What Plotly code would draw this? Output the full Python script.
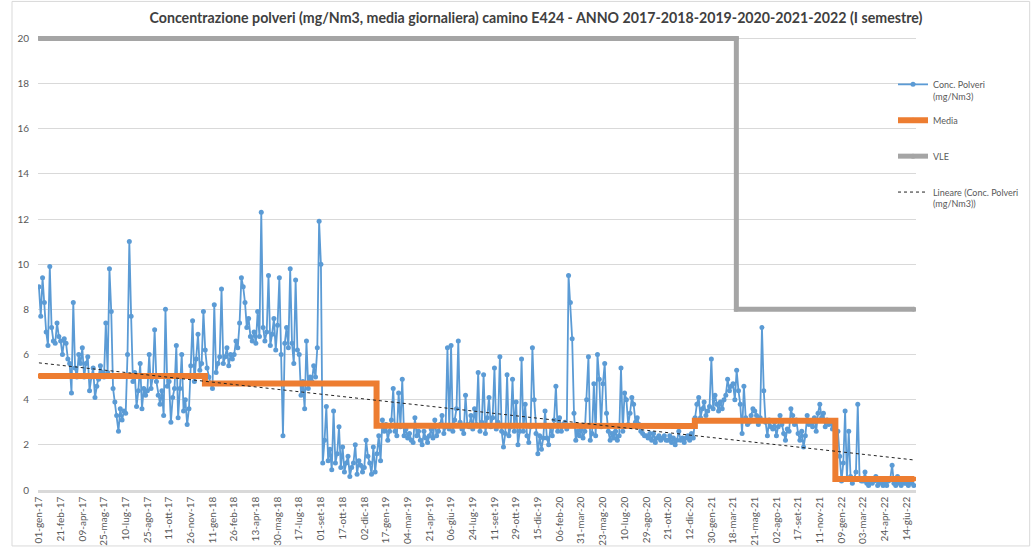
import numpy as np
import plotly.graph_objects as go

# ---------------- data ----------------
tick_labels = [
    "01-gen-17", "21-feb-17", "09-apr-17", "25-mag-17", "10-lug-17", "25-ago-17",
    "11-ott-17", "26-nov-17", "11-gen-18", "26-feb-18", "13-apr-18", "30-mag-18",
    "17-lug-18", "01-set-18", "17-ott-18", "02-dic-18", "17-gen-19", "04-mar-19",
    "21-apr-19", "06-giu-19", "24-lug-19", "11-set-19", "29-ott-19", "15-dic-19",
    "06-feb-20", "31-mar-20", "23-mag-20", "10-lug-20", "29-ago-20", "21-ott-20",
    "12-dic-20", "30-gen-21", "18-mar-21", "21-mag-21", "02-ago-21", "17-set-21",
    "11-nov-21", "09-gen-22", "03-mar-22", "24-apr-22", "14-giu-22",
]
points_per_tick = 46          # daily records between two labelled ticks
samples_per_tick = 12         # values per tick interval
last_index = 1856             # index of the last daily record

# Conc. Polveri (mg/Nm3), 12 per tick interval
conc_values = [
    9.0, 7.7, 9.4, 8.3, 7.0, 6.4, 9.9, 7.2, 6.6, 6.5, 7.4, 6.8,      # 01-gen-17
    6.6, 6.0, 6.7, 6.5, 5.8, 5.6, 4.3, 8.3, 5.4, 5.0, 6.0, 5.6,      # 21-feb-17
    6.3, 5.0, 5.6, 5.9, 4.4, 5.0, 5.4, 4.1, 4.6, 4.9, 5.5, 5.2,      # 09-apr-17
    5.0, 7.4, 5.2, 9.8, 7.9, 4.5, 3.9, 3.3, 2.6, 3.6, 3.1, 3.5,      # 25-mag-17
    3.4, 6.0, 11.0, 7.7, 4.8, 5.2, 3.7, 4.4, 5.6, 3.6, 4.5, 4.2,     # 10-lug-17
    4.4, 6.0, 4.5, 5.0, 7.1, 4.8, 4.2, 3.8, 4.4, 3.3, 8.0, 4.6,      # 25-ago-17
    4.8, 3.0, 4.1, 4.5, 6.4, 3.2, 4.5, 6.0, 3.5, 4.0, 2.9, 3.6,      # 11-ott-17
    5.5, 7.5, 4.8, 5.8, 6.9, 5.3, 5.6, 7.9, 6.2, 5.4, 5.0, 4.7,      # 26-nov-17
    4.5, 8.2, 5.2, 5.6, 5.9, 8.9, 5.6, 5.9, 6.3, 5.5, 6.0, 5.8,      # 11-gen-18
    6.0, 6.6, 6.3, 7.4, 9.4, 9.0, 8.3, 7.2, 7.6, 6.8, 6.6, 7.0,      # 26-feb-18
    6.5, 7.9, 6.8, 12.3, 7.2, 6.6, 7.0, 9.5, 6.4, 6.9, 7.6, 6.2,     # 13-apr-18
    7.3, 9.4, 6.0, 2.4, 6.5, 7.2, 6.3, 9.8, 6.5, 5.6, 9.3, 6.2,      # 30-mag-18
    6.0, 4.2, 4.8, 3.6, 6.6, 4.5, 5.0, 4.8, 5.5, 5.0, 6.3, 11.9,     # 17-lug-18
    10.0, 1.2, 2.2, 3.7, 1.3, 1.8, 0.9, 3.5, 1.2, 1.6, 2.8, 1.0,     # 01-set-18
    1.9, 0.8, 1.2, 1.5, 0.6, 1.0, 1.2, 2.0, 0.7, 1.3, 1.1, 0.8,      # 17-ott-18
    1.0, 2.2, 1.5, 1.2, 0.7, 1.9, 0.8, 1.6, 2.4, 1.3, 3.1, 2.6,      # 02-dic-18
    2.9, 2.2, 2.6, 3.1, 4.5, 2.6, 2.4, 4.3, 2.8, 4.9, 2.4, 2.7,      # 17-gen-19
    2.3, 2.5, 2.2, 2.1, 3.2, 2.4, 2.6, 2.2, 2.0, 2.6, 2.3, 2.1,      # 04-mar-19
    2.4, 2.7, 2.3, 3.1, 2.4, 2.6, 2.9, 3.3, 2.5, 2.8, 6.3, 2.7,      # 21-apr-19
    6.4, 2.6, 3.1, 3.6, 6.6, 3.0, 2.7, 2.5, 4.2, 2.9, 2.8, 3.3,      # 06-giu-19
    2.7, 3.6, 2.9, 5.2, 2.6, 3.0, 5.1, 2.5, 3.2, 4.1, 2.8, 3.2,      # 24-lug-19
    5.4, 2.7, 3.0, 5.9, 2.6, 1.9, 2.5, 5.1, 2.4, 2.8, 4.9, 2.6,      # 11-set-19
    3.9, 2.0, 2.6, 5.8, 2.6, 3.8, 2.4, 2.1, 2.8, 6.3, 4.0, 2.5,      # 29-ott-19
    1.6, 2.4, 1.8, 2.3, 3.5, 2.3, 2.0, 2.8, 2.4, 3.1, 4.6, 2.6,      # 15-dic-19
    3.2, 2.6, 2.9, 3.0, 2.7, 9.5, 8.3, 6.7, 3.4, 2.2, 2.6, 2.4,      # 06-feb-20
    2.7, 2.3, 2.6, 4.0, 5.9, 2.2, 2.5, 4.7, 2.4, 6.0, 4.9, 2.8,      # 31-mar-20
    4.7, 5.6, 3.4, 2.6, 2.2, 2.5, 2.3, 2.6, 2.2, 2.4, 5.4, 2.6,      # 23-mag-20
    4.3, 4.0, 2.9, 3.4, 4.1, 3.8, 3.0, 3.2, 2.9, 2.6, 2.5, 2.4,      # 10-lug-20
    2.4, 2.3, 2.5, 2.2, 2.5, 2.1, 2.3, 2.4, 2.2, 2.3, 2.4, 2.2,      # 29-ago-20
    2.2, 2.4, 2.1, 2.3, 2.0, 2.2, 2.6, 2.2, 2.3, 2.1, 2.3, 2.4,      # 21-ott-20
    2.2, 2.5, 2.3, 3.2, 3.8, 4.1, 3.2, 3.6, 3.9, 3.3, 3.5, 3.7,      # 12-dic-20
    5.8, 3.6, 4.2, 3.8, 3.5, 3.9, 3.6, 4.0, 4.2, 4.9, 4.4, 4.6,      # 30-gen-21
    4.7, 4.0, 5.3, 4.4, 3.8, 2.5, 4.6, 3.2, 2.9, 3.0, 3.3, 3.6,      # 18-mar-21
    3.5, 3.3, 2.9, 3.2, 7.2, 4.4, 3.0, 2.4, 3.1, 2.8, 2.7, 3.0,      # 21-mag-21
    2.4, 2.8, 3.3, 2.9, 2.5, 2.2, 2.7, 2.6, 3.6, 3.3, 2.9, 3.1,      # 02-ago-21
    2.5, 2.2, 2.6, 1.9, 2.4, 3.3, 2.9, 3.0, 2.8, 3.2, 2.6, 3.4,      # 17-set-21
    3.8, 3.2, 3.4, 2.8, 3.1, 2.9, 3.0, 2.7, 2.9, 2.4, 2.6, 1.5,      # 11-nov-21
    0.4, 1.2, 3.5, 0.5, 2.6, 0.6, 0.3, 0.5, 0.8, 3.8, 0.5, 0.4,      # 09-gen-22
    0.4, 0.8, 0.3, 0.2, 0.5, 0.3, 0.4, 0.6, 0.2, 0.3, 0.4, 0.2,      # 03-mar-22
    0.3, 0.2, 0.4, 0.5, 1.1, 0.3, 0.2, 0.6, 0.3, 0.2, 0.4, 0.3,      # 24-apr-22
    0.3, 0.2, 0.4, 0.3, 0.2,                                         # 14-giu-22
]

# Media (yearly mean) and where each year starts (record index)
year_names = ["2017", "2018", "2019", "2020", "2021", "2022"]
year_means = [5.05, 4.72, 2.85, 2.83, 3.07, 0.49]
year_start_index = [0, 352, 716, 1075, 1391, 1689]

# VLE (emission limit) and the record where it changes
vle_values = [20, 8]
vle_change_index = 1479

# Linear trend of Conc. Polveri as drawn (value at first and last record)
trend_values = [5.63, 1.33]

# ---------------- build traces ----------------
step = points_per_tick / samples_per_tick
x_conc = np.arange(len(conc_values)) * step

media_x, media_y = [], []
bounds = year_start_index + [last_index]
for i, m in enumerate(year_means):
    media_x += [bounds[i], bounds[i + 1]]
    media_y += [m, m]

vle_x = [0, vle_change_index, vle_change_index, last_index]
vle_y = [vle_values[0], vle_values[0], vle_values[1], vle_values[1]]

trend_x = [0, last_index]
trend_y = trend_values

tick_vals = [k * points_per_tick for k in range(len(tick_labels))]

FONT = "Lato, 'Open Sans', sans-serif"
GREY = "#595959"

fig = go.Figure()
fig.add_trace(go.Scatter(
    x=x_conc, y=conc_values, mode="lines+markers",
    name="Conc. Polveri<br>(mg/Nm3)", legendgroup="a",
    line=dict(color="#5b9bd5", width=1.8),
    marker=dict(color="#5b9bd5", size=5),
))
fig.add_trace(go.Scatter(
    x=media_x, y=media_y, mode="lines+markers",
    name="Media<br> ", legendgroup="b",
    line=dict(color="#ed7d31", width=6),
    marker=dict(color="#ed7d31", size=5),
))
fig.add_trace(go.Scatter(
    x=vle_x, y=vle_y, mode="lines+markers",
    name="VLE<br> ", legendgroup="c",
    line=dict(color="#a5a5a5", width=5),
    marker=dict(color="#a5a5a5", size=5),
))
fig.add_trace(go.Scatter(
    x=trend_x, y=trend_y, mode="lines",
    name="Lineare (Conc. Polveri<br>(mg/Nm3))", legendgroup="d",
    line=dict(color="#222222", width=1, dash="dot"),
))

W, H = 1032, 549
left, right_px = 38, 916.3
top_px, bottom_px = 34.6, 490

fig.update_layout(
    width=W, height=H,
    paper_bgcolor="white", plot_bgcolor="white",
    margin=dict(l=left, r=W - right_px, t=top_px, b=H - bottom_px, autoexpand=False),
    font=dict(family=FONT, color=GREY, size=10),
    title=dict(
        text="<b>Concentrazione polveri (mg/Nm3, media giornaliera) camino E424 - ANNO 2017-2018-2019-2020-2021-2022 (I semestre)</b>",
        x=536 / W, xanchor="center", xref="container",
        y=1 - 18 / H, yanchor="middle", yref="container",
        font=dict(family=FONT, size=14.2, color="#404040"),
    ),
    xaxis=dict(
        range=[-2, 1860], tickmode="array", tickvals=tick_vals, ticktext=tick_labels,
        tickangle=-90, showgrid=False, zeroline=False,
        showline=True, linecolor="#d9d9d9", linewidth=2.5,
        ticks="", tickfont=dict(size=10, color=GREY, family=FONT),
    ),
    yaxis=dict(
        range=[0, 20.15], tickmode="array", tickvals=list(range(0, 21, 2)),
        showgrid=True, gridcolor="#d9d9d9", gridwidth=1, zeroline=False,
        showline=False, ticks="", ticklabelstandoff=8,
        tickfont=dict(size=10, color=GREY, family=FONT),
    ),
    legend=dict(
        xref="container", yref="container",
        x=893 / W, xanchor="left", y=1 - 72 / H, yanchor="top",
        font=dict(size=9, color=GREY, family=FONT),
        itemwidth=30, tracegroupgap=9.5, valign="top", bgcolor="rgba(0,0,0,0)",
    ),
    shapes=[dict(
        type="rect", xref="paper", yref="paper",
        x0=(12 - left) / (right_px - left), x1=(1030 - left) / (right_px - left),
        y0=(bottom_px - 546) / (bottom_px - top_px), y1=(bottom_px - 1) / (bottom_px - top_px),
        line=dict(color="#d9d9d9", width=1), fillcolor="rgba(0,0,0,0)", layer="below",
    )],
)

fig.write_html("out.html", config={"displayModeBar": False},
               post_script="document.body.style.margin='0';")
